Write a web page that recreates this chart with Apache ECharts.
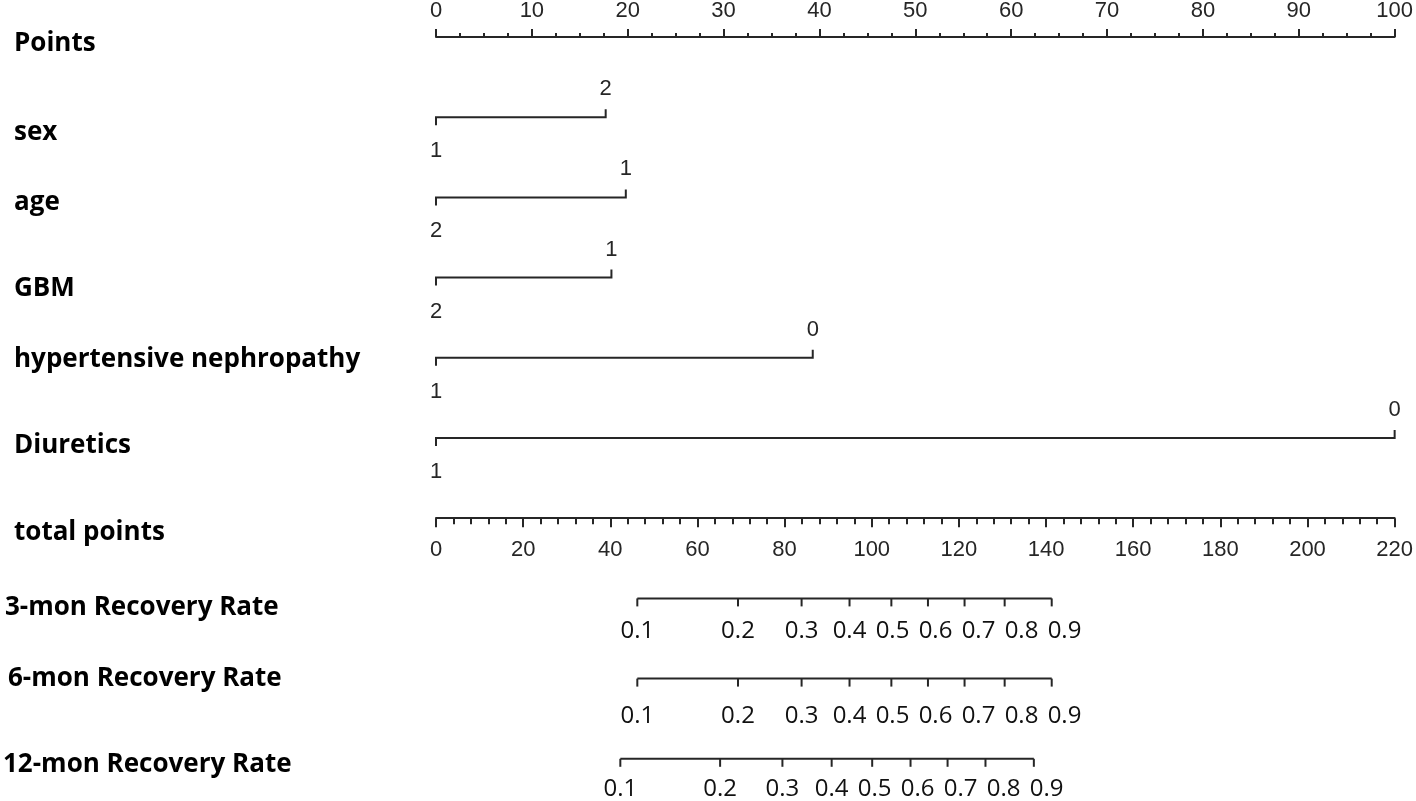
<!DOCTYPE html>
<html>
<head>
<meta charset="utf-8">
<title>Nomogram</title>
<script src="https://cdn.jsdelivr.net/npm/echarts@6/dist/echarts.min.js"></script>
<style>
html, body { margin: 0; padding: 0; background: #ffffff; }
#chart { width: 1416px; height: 801px; }
</style>
</head>
<body>
<div id="chart"></div>
<script>
// ---- data ----
var rowNames = ['Points', 'sex', 'age', 'GBM', 'hypertensive nephropathy', 'Diuretics',
  'total points', '3-mon Recovery Rate', '6-mon Recovery Rate', '12-mon Recovery Rate'];

// predictor scales (points at the right-hand level; left-hand level sits at 0)
var varNames = ['sex', 'age', 'GBM', 'hypertensive nephropathy', 'Diuretics'];
var varLeftLevel = ['1', '2', '2', '1', '1'];
var varRightLevel = ['2', '1', '1', '0', '0'];
var varRightPoints = [17.7, 19.8, 18.3, 39.3, 100];

// probability scales, positioned in total points
var rateLabels = ['0.1', '0.2', '0.3', '0.4', '0.5', '0.6', '0.7', '0.8', '0.9'];
var rate3mon = [46.2, 69.3, 83.9, 94.9, 104.5, 112.9, 121.3, 130.5, 141.3];
var rate6mon = [46.2, 69.3, 83.9, 94.9, 104.5, 112.9, 121.3, 130.5, 141.3];
var rate12mon = [42.3, 65.2, 79.5, 90.8, 100.1, 108.9, 117.4, 126.1, 137.2];

// ---- look ----
var ink = '#262626';
var tickFamily = '"Liberation Sans", Arial, sans-serif';
var tickFont = '22px ' + tickFamily;
var rateFont = '24px "Open Sans", Lato, sans-serif';
var titleFont = 'bold 26px "Open Sans", Lato, sans-serif';
// small hand nudges of the row titles (x, dy) and of the rate labels (dy)
var titleX = [14, 14, 14, 14, 14, 14, 14, 5, 8, 3];
var titleDy = [7, 15, 5, 11, 2, 8, 14, 9, 0, 6];
var rateLabelDy = [33, 38, 30];
var rateMinGap = 43;

var chart = echarts.init(document.getElementById('chart'));

function rowOf(name) { return rowNames.indexOf(name); }

var varData = varNames.map(function (n, i) { return [rowOf(n), varRightPoints[i]]; });

var rateRows = [
  { row: rowOf('3-mon Recovery Rate'), vals: rate3mon },
  { row: rowOf('6-mon Recovery Rate'), vals: rate6mon },
  { row: rowOf('12-mon Recovery Rate'), vals: rate12mon }
];
var rateData = rateRows.map(function (r) { return [r.row, r.vals[0], r.vals[r.vals.length - 1]]; });

function renderTitle(params, api) {
  var i = params.dataIndex;
  var p = api.coord([0, api.value(0)]);
  return {
    type: 'text',
    style: { text: rowNames[i], x: titleX[i], y: p[1] + titleDy[i], font: titleFont,
      fill: '#000', align: 'left', verticalAlign: 'middle' }
  };
}

function renderVariable(params, api) {
  var i = params.dataIndex;
  var row = api.value(0);
  var a = api.coord([0, row]);
  var b = api.coord([api.value(1), row]);
  return {
    type: 'group',
    children: [
      { type: 'polyline', shape: { points: [[a[0], a[1] + 8], [a[0], a[1]], [b[0], b[1]], [b[0], b[1] - 8]] },
        style: { stroke: ink, lineWidth: 2, fill: null } },
      { type: 'text', style: { text: varLeftLevel[i], x: a[0], y: a[1] + 34, font: tickFont,
        fill: ink, align: 'center', verticalAlign: 'middle' } },
      { type: 'text', style: { text: varRightLevel[i], x: b[0], y: b[1] - 28, font: tickFont,
        fill: ink, align: 'center', verticalAlign: 'middle' } }
    ]
  };
}

function renderRate(params, api) {
  var k = params.dataIndex;
  var row = api.value(0);
  var vals = rateRows[k].vals;
  var a = api.coord([api.value(1), row]);
  var b = api.coord([api.value(2), row]);
  var children = [
    { type: 'line', shape: { x1: a[0], y1: a[1], x2: b[0], y2: b[1] },
      style: { stroke: ink, lineWidth: 2 } }
  ];
  var lastX = -1e9;
  vals.forEach(function (v, j) {
    var p = api.coord([v, row]);
    children.push({ type: 'line', shape: { x1: p[0], y1: p[1], x2: p[0], y2: p[1] + 8 },
      style: { stroke: ink, lineWidth: 2 } });
    // labels keep a minimum spacing so they do not run into each other
    var lx = Math.max(p[0], lastX + rateMinGap);
    lastX = lx;
    children.push({ type: 'text', style: { text: rateLabels[j], x: lx, y: p[1] + rateLabelDy[k],
      font: rateFont, fill: '#111', align: 'center', verticalAlign: 'middle' } });
  });
  return { type: 'group', children: children };
}

var option = {
  backgroundColor: '#ffffff',
  animation: false,
  grid: { left: 436, right: 19, top: 37, height: 481.2 },
  xAxis: [
    {
      type: 'value', position: 'top', min: 0, max: 100, interval: 10,
      axisLine: { show: true, onZero: false, lineStyle: { color: ink, width: 2 } },
      axisTick: { show: true, length: 8, lineStyle: { color: ink, width: 2 } },
      minorTick: { show: true, splitNumber: 4, length: 4, lineStyle: { color: ink, width: 2 } },
      axisLabel: { margin: 15, color: ink, fontFamily: tickFamily, fontSize: 22,
        showMinLabel: true, showMaxLabel: true },
      splitLine: { show: false }
    },
    {
      type: 'value', position: 'bottom', min: 0, max: 220, interval: 20,
      axisLine: { show: true, onZero: false, lineStyle: { color: ink, width: 2 } },
      axisTick: { show: true, length: 9, lineStyle: { color: ink, width: 2 } },
      minorTick: { show: true, splitNumber: 5, length: 6, lineStyle: { color: ink, width: 2 } },
      axisLabel: { margin: 21, color: ink, fontFamily: tickFamily, fontSize: 22,
        showMinLabel: true, showMaxLabel: true },
      splitLine: { show: false }
    }
  ],
  yAxis: {
    type: 'value', inverse: true, min: 0, max: 6, show: false,
    splitLine: { show: false }
  },
  series: [
    { type: 'custom', name: 'titles', xAxisIndex: 0, renderItem: renderTitle,
      data: rowNames.map(function (n, i) { return [i]; }), clip: false, silent: true },
    { type: 'custom', name: 'predictors', xAxisIndex: 0, renderItem: renderVariable,
      data: varData, clip: false, silent: true },
    { type: 'custom', name: 'rates', xAxisIndex: 1, renderItem: renderRate,
      data: rateData, clip: false, silent: true }
  ]
};
chart.setOption(option);
</script>
</body>
</html>
